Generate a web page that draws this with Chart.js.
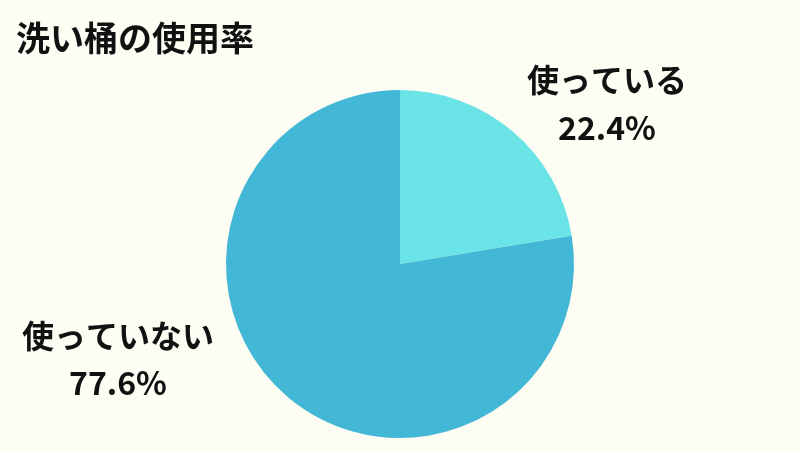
<!DOCTYPE html>
<html><head><meta charset="utf-8">
<script src="https://cdn.jsdelivr.net/npm/chart.js@4"></script>
<style>html,body{margin:0;padding:0;background:#FDFDF4;}#c{display:block;}</style>
</head><body>
<canvas id="c" width="800" height="450"></canvas>
<script>
const title = "洗い桶の使用率";
const categories = ["使っている", "使っていない"];
const values = [22.4, 77.6];
const valueLabels = ["22.4%", "77.6%"];
const colors = ["#6BE4E7", "#42B7D6"];

const FONT = '"Noto Sans CJK JP", "Noto Sans", sans-serif';

const overlay = {
  id: 'overlay',
  beforeDraw(chart) {
    const ctx = chart.ctx;
    ctx.save();
    ctx.fillStyle = '#FDFDF4';
    ctx.fillRect(0, 0, chart.width, chart.height);
    ctx.restore();
  },
  afterDraw(chart) {
    const ctx = chart.ctx;
    ctx.save();
    ctx.fillStyle = '#111111';
    ctx.textBaseline = 'middle';
    ctx.font = 'bold 34px ' + FONT;
    ctx.textAlign = 'left';
    ctx.fillText(title, 16, 38);
    ctx.textAlign = 'center';
    ctx.font = 'bold 32px ' + FONT;
    const pos = [[607, 80, 128], [118, 336, 383]];
    categories.forEach((c, i) => {
      ctx.fillText(c, pos[i][0], pos[i][1]);
      ctx.fillText(valueLabels[i], pos[i][0], pos[i][2]);
    });
    ctx.restore();
  }
};

new Chart(document.getElementById('c'), {
  type: 'pie',
  data: {
    labels: categories,
    datasets: [{ data: values, backgroundColor: colors, borderWidth: 0 }]
  },
  options: {
    responsive: false,
    animation: false,
    devicePixelRatio: 1,
    layout: { padding: { top: 90, bottom: 12, left: 0, right: 0 } },
    plugins: { legend: { display: false }, tooltip: { enabled: false }, title: { display: false } }
  },
  plugins: [overlay]
});
</script>
</body></html>
